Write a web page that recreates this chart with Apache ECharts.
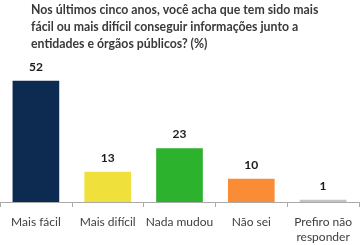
<!DOCTYPE html>
<html><head><meta charset="utf-8">
<script src="https://cdn.jsdelivr.net/npm/echarts@6/dist/echarts.min.js"></script>
<style>html,body{margin:0;padding:0;background:#fff}#c{width:360px;height:245px}</style>
</head><body><div id="c"></div>
<script>
const titleText = "Nos últimos cinco anos, você acha que tem sido mais\nfácil ou mais difícil conseguir informações junto a\nentidades e órgãos públicos? (%)";
const categories = ["Mais fácil", "Mais difícil", "Nada mudou", "Não sei", "Prefiro não\nresponder"];
const values = [52, 13, 23, 10, 1];
const colors = ["#0d2b50", "#f0e03c", "#2db22d", "#fb8c36", "#c3c3c3"];

const chart = echarts.init(document.getElementById('c'), null, {renderer: 'canvas'});
chart.setOption({
  animation: false,
  title: {
    text: titleText, left: 26, top: -3,
    textStyle: {fontFamily: 'Lato', fontSize: 12.3, fontWeight: 'bold', color: '#3a3a3a', lineHeight: 16.7}
  },
  grid: {left: 0, right: 1, top: 62, bottom: 38, containLabel: false},
  xAxis: {
    type: 'category', data: categories,
    axisLine: {lineStyle: {color: '#aaaaaa'}},
    axisTick: {show: true, length: 5, lineStyle: {color: '#aaaaaa'}},
    axisLabel: {fontFamily: 'Lato', fontSize: 12, color: '#404040', margin: 13, lineHeight: 15, interval: 0}
  },
  yAxis: {type: 'value', min: 0, max: 60, show: false, splitLine: {show: false}},
  series: [{
    type: 'bar', barWidth: '65%',
    data: values.map((v, i) => ({value: v, itemStyle: {color: colors[i]}})),
    label: {show: true, position: 'top', distance: 8, fontFamily: 'Lato', fontSize: 12, fontWeight: 'bold', color: '#1a1a1a'}
  }]
});
</script></body></html>
